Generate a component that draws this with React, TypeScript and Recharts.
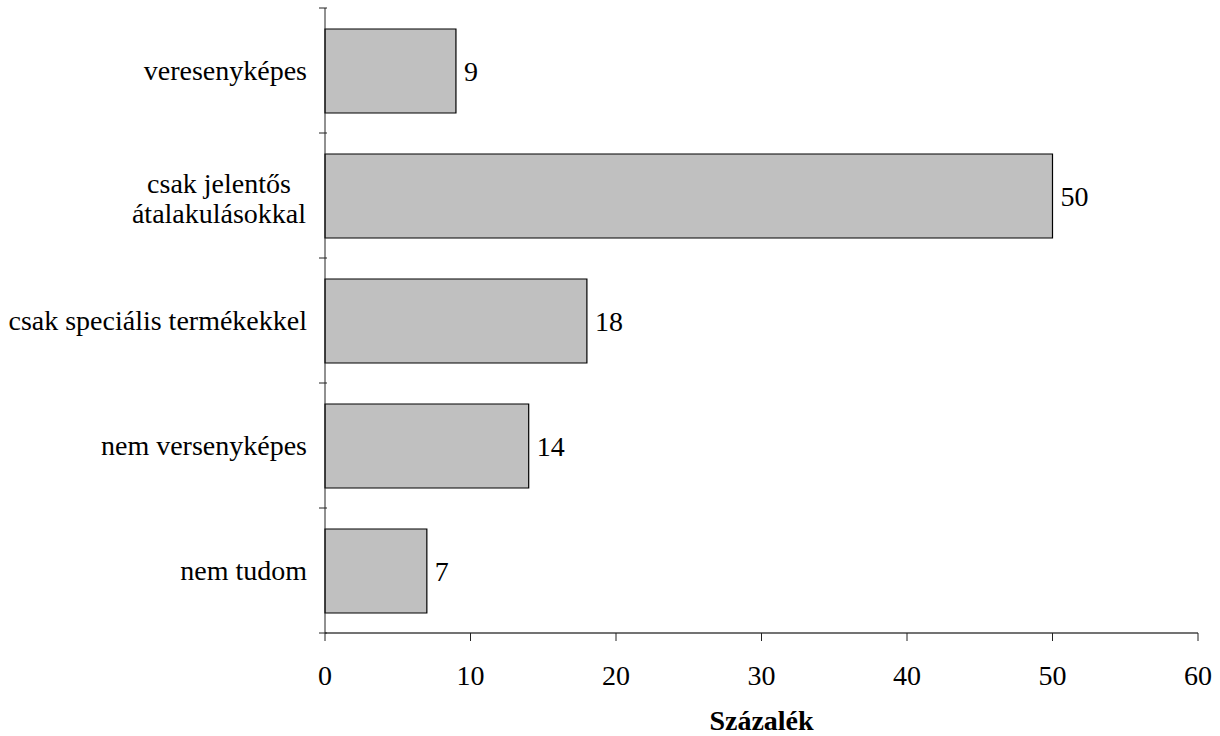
import React from 'react'
import { BarChart, Bar, XAxis, YAxis, LabelList } from 'recharts'

// kategóriák felülről lefelé
const categories = [
  'veresenyképes',
  'csak jelentős\nátalakulásokkal',
  'csak speciális termékekkel',
  'nem versenyképes',
  'nem tudom',
]
const percents = [9, 50, 18, 14, 7]
const xTicks = [0, 10, 20, 30, 40, 50, 60]

const data = categories.map((name, i) => ({ name, value: percents[i] }))

const FONT = "'Liberation Serif', 'Times New Roman', serif"
const textStyle = { fontFamily: FONT, fontSize: 28, fill: '#000' }
const PLOT_TOP = 8
const PLOT_BOTTOM = 633
const BAND = (PLOT_BOTTOM - PLOT_TOP) / categories.length

function CategoryTick(props: any) {
  const { x, y, payload, index } = props
  const lines = String(payload.value).split('\n')
  const axisX = x + 20
  return (
    <g>
      {/* osztásjelek a kategóriák határán */}
      <line x1={axisX - 8} x2={axisX} y1={y - BAND / 2} y2={y - BAND / 2} stroke="#222" />
      {index === categories.length - 1 && (
        <line x1={axisX - 8} x2={axisX} y1={y + BAND / 2} y2={y + BAND / 2} stroke="#222" />
      )}
      {lines.length === 1 ? (
        <text x={x} y={y} dy="0.35em" textAnchor="end" style={textStyle}>
          {lines[0]}
        </text>
      ) : (
        <text x={x - 88} y={y} textAnchor="middle" style={textStyle}>
          {lines.map((l, i) => (
            <tspan key={i} x={x - 88} dy={i === 0 ? -3 : 30}>
              {l}
            </tspan>
          ))}
        </text>
      )}
    </g>
  )
}

function XLabel(props: any) {
  const { viewBox } = props
  const cx = viewBox.x + viewBox.width / 2
  return (
    <text x={cx} y={viewBox.y + viewBox.height - 6} textAnchor="middle" style={{ ...textStyle, fontWeight: 'bold' }}>
      Százalék
    </text>
  )
}

export default function App() {
  return (
    <div style={{ position: 'absolute', left: 0, top: 0, background: '#fff' }}>
      <BarChart
        width={1220}
        height={736}
        data={data}
        layout="vertical"
        margin={{ top: PLOT_TOP, right: 22, left: 0, bottom: 0 }}
      >
        <XAxis
          type="number"
          domain={[0, 60]}
          ticks={xTicks}
          height={103}
          tickSize={8}
          tickMargin={24}
          axisLine={{ stroke: '#444', strokeWidth: 1.5 }}
          tickLine={{ stroke: '#222' }}
          tick={{ style: textStyle }}
          label={<XLabel />}
        />
        <XAxis
          xAxisId="top"
          orientation="top"
          type="number"
          domain={[0, 60]}
          height={0}
          tick={false}
          tickLine={false}
          axisLine={{ stroke: '#999' }}
        />
        <YAxis
          type="category"
          dataKey="name"
          width={325}
          tickLine={false}
          axisLine={{ stroke: '#222' }}
          tick={<CategoryTick />}
          tickMargin={12}
          interval={0}
        />
        <YAxis
          yAxisId="right"
          orientation="right"
          type="category"
          dataKey="name"
          width={0}
          tick={false}
          tickLine={false}
          axisLine={{ stroke: '#999' }}
        />
        <Bar dataKey="value" fill="#c0c0c0" stroke="#000" strokeWidth={1.2} barSize={84} isAnimationActive={false}>
          <LabelList dataKey="value" position="right" offset={8} style={textStyle} />
        </Bar>
      </BarChart>
    </div>
  )
}
